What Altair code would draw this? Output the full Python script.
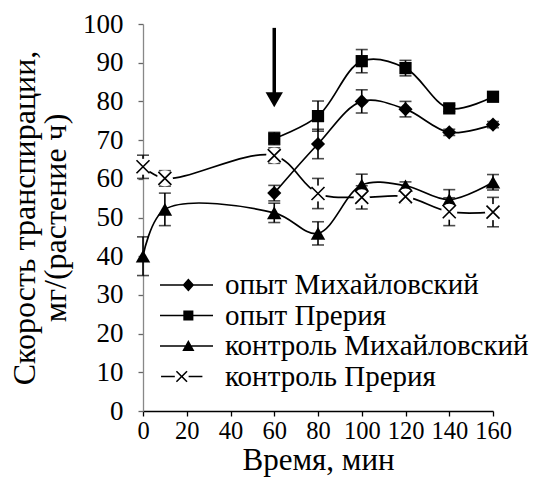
import altair as alt
import pandas as pd

# Series names (legend order)
series_names = ["опыт Михайловский", "опыт Прерия", "контроль Михайловский", "контроль Прерия"]

# Time points, min
exp_times = [60, 80, 100, 120, 140, 160]
ctrl_times = [0, 10, 60, 80, 100, 120, 140, 160]

# Transpiration rate, mg/(plant h), with error values
exp_mikh = [56.3, 69.0, 80.0, 78.0, 72.0, 74.0]
exp_mikh_err = [2.0, 3.8, 3.0, 2.0, 0.8, 0.8]

exp_prer = [70.4, 76.2, 90.4, 88.6, 78.2, 81.2]
exp_prer_err = [1.6, 3.9, 3.0, 2.0, 0.8, 0.8]

ctrl_mikh = [40.0, 52.1, 51.2, 45.9, 58.4, 58.2, 54.6, 59.1]
ctrl_mikh_err = [5.0, 4.2, 2.5, 3.0, 2.8, 1.0, 2.6, 2.0]

ctrl_prer = [63.1, 60.1, 66.0, 56.2, 55.2, 55.4, 51.5, 51.4]
ctrl_prer_err = [3.0, 2.0, 2.0, 3.9, 3.0, 1.5, 3.6, 3.8]

# Moment of treatment (arrow)
arrow_time = 60
arrow_top = 99.0
arrow_head = 80.4

x_ticks = list(range(0, 161, 20))
y_ticks = list(range(0, 101, 10))

rows = []
for name, ts, vals, errs in [
    (series_names[0], exp_times, exp_mikh, exp_mikh_err),
    (series_names[1], exp_times, exp_prer, exp_prer_err),
    (series_names[2], ctrl_times, ctrl_mikh, ctrl_mikh_err),
    (series_names[3], ctrl_times, ctrl_prer, ctrl_prer_err),
]:
    for t, v, e in zip(ts, vals, errs):
        rows.append({"series": name, "t": t, "v": v, "lo": v - e, "hi": v + e})
df = pd.DataFrame(rows)

FONT = "Liberation Serif"

x_scale = alt.Scale(domain=[0, 160], nice=False)
y_scale = alt.Scale(domain=[0, 100], nice=False)
x_axis = alt.Axis(values=x_ticks, title="Время, мин", grid=False,
                  domainColor="#000000", tickColor="#000000", tickSize=5,
                  labelFontSize=24.5, titleFontSize=31, labelFont=FONT, titleFont=FONT,
                  labelColor="black", titleColor="black", titleFontWeight="normal",
                  labelPadding=3, titlePadding=3, labelFlush=False, labelOverlap=False)
y_axis = alt.Axis(values=y_ticks, title=["Скорость транспирации,", "мг/(растение ч)"],
                  grid=False, domainColor="#888888", tickColor="#666666", tickSize=5,
                  labelFontSize=27, titleFontSize=32, labelFont=FONT, titleFont=FONT,
                  labelColor="black", titleColor="black", titleFontWeight="normal",
                  labelPadding=15, titlePadding=10, titleLineHeight=31,
                  labelOverlap=False)


def X(field="t"):
    return alt.X(f"{field}:Q", scale=x_scale, axis=x_axis)


def Y(field="v"):
    return alt.Y(f"{field}:Q", scale=y_scale, axis=y_axis)


base = alt.Chart(df)

lines = base.mark_line(interpolate="catmull-rom", color="black", strokeWidth=1.7).encode(
    x=X(), y=Y(), detail="series:N")

err_rule = base.mark_rule(color="black", strokeWidth=1.6).encode(
    x=X(), y=Y("lo"), y2="hi:Q")
err_lo = base.mark_tick(color="black", thickness=1.6, size=12, orient="horizontal").encode(
    x=X(), y=Y("lo"))
err_hi = base.mark_tick(color="black", thickness=1.6, size=12, orient="horizontal").encode(
    x=X(), y=Y("hi"))


def markers(name, shape, size):
    return base.transform_filter(alt.datum.series == name).mark_point(
        shape=shape, size=size, filled=True, color="black", opacity=1).encode(x=X(), y=Y())


m_diamond = markers(series_names[0], "diamond", 200)
m_square = markers(series_names[1], "square", 150)
m_triangle = markers(series_names[2], "triangle-up", 210)

x_path = "M-1,-1L1,1M-1,1L1,-1"
cross_src = base.transform_filter(alt.datum.series == series_names[3])
m_cross_bg = cross_src.mark_point(shape="circle", size=260, filled=True, color="white",
                                  opacity=1).encode(x=X(), y=Y())
m_cross = cross_src.mark_point(shape=x_path, size=169, filled=False, color="black",
                               strokeWidth=1.6, opacity=1).encode(x=X(), y=Y())

arrow_df = pd.DataFrame({"t": [arrow_time], "v": [arrow_top], "head": [arrow_head]})
arrow_shaft = alt.Chart(arrow_df).mark_rule(color="black", strokeWidth=3.5).encode(
    x=X(), y=Y(), y2="head:Q")
arrow_tip = alt.Chart(arrow_df).mark_point(shape="triangle-down", size=300, filled=True,
                                           color="black", opacity=1).encode(x=X(), y=Y("head"))


def cross_outline(cx, a=0.2, w=0.0212, e=0.0424):
    """Filled X-shaped outline centred at (cx, 0), as an SVG path in symbol units."""
    pts = [(0, e), (a - w, a + w), (a + w, a - w), (e, 0), (a + w, -a + w), (a - w, -a - w),
           (0, -e), (-a + w, -a - w), (-a - w, -a + w), (-e, 0), (-a - w, a - w), (-a + w, a + w)]
    return "M" + "L".join(f"{cx + px:.3f},{py:.3f}" for px, py in pts) + "Z"


# Legend symbols: a line segment (thin filled bar) with the series marker on it
bar = "M-1,-0.03H1V0.03H-1Z"
legend_paths = [
    bar + "M0.07,-0.245L0.29,0L0.07,0.245L-0.15,0Z",
    bar + "M-0.12,-0.19H0.26V0.19H-0.12Z",
    bar + "M0.07,-0.23L0.3,0.19H-0.16Z",
    "M-0.96,-0.03H-0.44V0.03H-0.96ZM0.08,-0.03H0.6V0.03H0.08Z" + cross_outline(-0.18),
]
legend_layer = base.mark_point(filled=True, color="black", opacity=0).encode(
    x=X(), y=Y(),
    shape=alt.Shape("series:N", scale=alt.Scale(domain=series_names, range=legend_paths),
                    legend=alt.Legend(title=None, orient="none", legendX=17, legendY=249,
                                      symbolSize=2809, symbolStrokeWidth=0,
                                      symbolFillColor="black", symbolStrokeColor="black",
                                      symbolOpacity=1, labelFont=FONT, labelFontSize=29,
                                      labelColor="black", labelOffset=12, rowPadding=1.5,
                                      clipHeight=24, labelLimit=400)))

chart = alt.layer(
    lines, err_rule, err_lo, err_hi, m_diamond, m_square, m_triangle,
    m_cross_bg, m_cross, arrow_shaft, arrow_tip, legend_layer
).properties(
    width=350, height=387,
    autosize=alt.AutoSizeParams(type="none"),
    padding={"left": 143, "top": 24, "right": 42, "bottom": 68},
    background="white",
).configure(font=FONT).configure_view(stroke=None).configure_axis(
    domainWidth=1.3, tickWidth=1.3, labelFont=FONT, titleFont=FONT
).configure_legend(labelFont=FONT)

chart.save("out.html", embed_options={"renderer": "svg", "actions": False})
